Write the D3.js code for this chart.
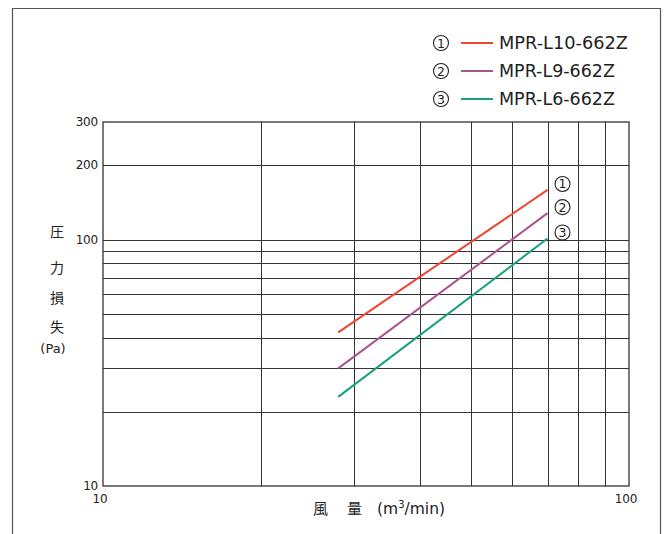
<!DOCTYPE html>
<html><head><meta charset="utf-8">
<script src="https://cdn.jsdelivr.net/npm/d3@7"></script>
<style>body{margin:0;background:#fff}svg{display:block}text{font-family:"DejaVu Sans","Noto Sans CJK JP",sans-serif;fill:#222}.cjk{font-family:"Noto Sans CJK JP",sans-serif}</style>
</head><body><svg id="c" width="667" height="534"></svg>
<script>
const series = ["MPR-L10-662Z","MPR-L9-662Z","MPR-L6-662Z"];
const marks = ["1","2","3"];
const colors = ["#ee4433","#a8558e","#1a9f7e"];
const airflow = [28, 70];
const pressureL10 = [42, 159];
const pressureL9 = [30, 128];
const pressureL6 = [23, 101];
const pressures = [pressureL10, pressureL9, pressureL6];
const xGrid = [20,30,40,50,60,70,80,90];
const yGrid = [20,30,40,50,60,70,80,90,100,200];
const yTickLabels = [300,200,100,10];
const xTickLabels = [10,100];
const yTitle = ["圧","力","損","失"];

const svg = d3.select("#c");
const x = d3.scaleLog().domain([10,100]).range([103,629]);
const y = d3.scaleLog().domain([10,300]).range([486,122]);

// outer frame
svg.append("path").attr("d","M12.5,534 V8.5 H660.5 V534").attr("fill","none").attr("stroke","#555").attr("stroke-width",1.2);

const g = svg.append("g");
g.selectAll(".vx").data(xGrid).join("line")
  .attr("x1",d=>Math.round(x(d))+0.5).attr("x2",d=>Math.round(x(d))+0.5)
  .attr("y1",y(300)).attr("y2",y(10)).attr("stroke","#333").attr("stroke-width",1);
g.selectAll(".hy").data(yGrid).join("line")
  .attr("y1",d=>Math.round(y(d))+0.5).attr("y2",d=>Math.round(y(d))+0.5)
  .attr("x1",x(10)).attr("x2",x(100)).attr("stroke","#333").attr("stroke-width",1);
g.append("rect").attr("x",x(10)).attr("y",y(300)).attr("width",x(100)-x(10)).attr("height",y(10)-y(300))
  .attr("fill","none").attr("stroke","#333").attr("stroke-width",1.3);

// tick labels
svg.selectAll(".yl").data(yTickLabels).join("text")
  .attr("x",98).attr("y",d=>y(d)+4).attr("text-anchor","end").attr("font-size",12).attr("letter-spacing",-0.2).text(d=>d);
svg.selectAll(".xl").data(xTickLabels).join("text")
  .attr("x",d=>x(d)-3).attr("y",503).attr("text-anchor","middle").attr("font-size",12).attr("letter-spacing",-0.2).text(d=>d);

function circled(cx, cy, t){
  svg.append("circle").attr("cx",cx).attr("cy",cy).attr("r",7.5).attr("fill","none").attr("stroke","#222").attr("stroke-width",1.1);
  svg.append("text").attr("x",cx).attr("y",cy).attr("dy","0.36em").attr("text-anchor","middle").attr("font-size",12.5).text(t);
}

// series lines
const line = d3.line().x(d=>x(d[0])).y(d=>y(d[1]));
pressures.forEach((p,i)=>{
  svg.append("path").datum(airflow.map((a,j)=>[a,p[j]])).attr("d",line)
    .attr("fill","none").attr("stroke",colors[i]).attr("stroke-width",2);
  circled(x(airflow[1])+15, y(p[1])-6, marks[i]);
});

// legend
const legendWidths = [129, 116, 116];
series.forEach((s,i)=>{
  const ly = 43 + i*28;
  circled(441, ly, marks[i]);
  svg.append("line").attr("x1",461).attr("x2",493).attr("y1",ly).attr("y2",ly).attr("stroke",colors[i]).attr("stroke-width",2);
  svg.append("text").attr("x",499).attr("y",ly).attr("dy","0.36em").attr("font-size",17)
    .attr("textLength",legendWidths[i]).attr("lengthAdjust","spacingAndGlyphs").text(s);
});

// axis titles
svg.append("text").attr("class","cjk").attr("x",313).attr("y",514).attr("font-size",15).text("風");
svg.append("text").attr("class","cjk").attr("x",347).attr("y",514).attr("font-size",15).text("量");
const xt = svg.append("text").attr("x",377).attr("y",514).attr("font-size",15.5);
xt.append("tspan").text("(m");
xt.append("tspan").attr("dy",-6).attr("font-size",10).text("3");
xt.append("tspan").attr("dy",6).text("/min)");
yTitle.forEach((c,i)=>{
  svg.append("text").attr("class","cjk").attr("x",57).attr("y",[232,268,298,327][i]).attr("dy","0.35em").attr("text-anchor","middle").attr("font-size",14).text(c);
});
svg.append("text").attr("x",53).attr("y",348).attr("dy","0.35em").attr("text-anchor","middle").attr("font-size",13).text("(Pa)");
</script></body></html>
